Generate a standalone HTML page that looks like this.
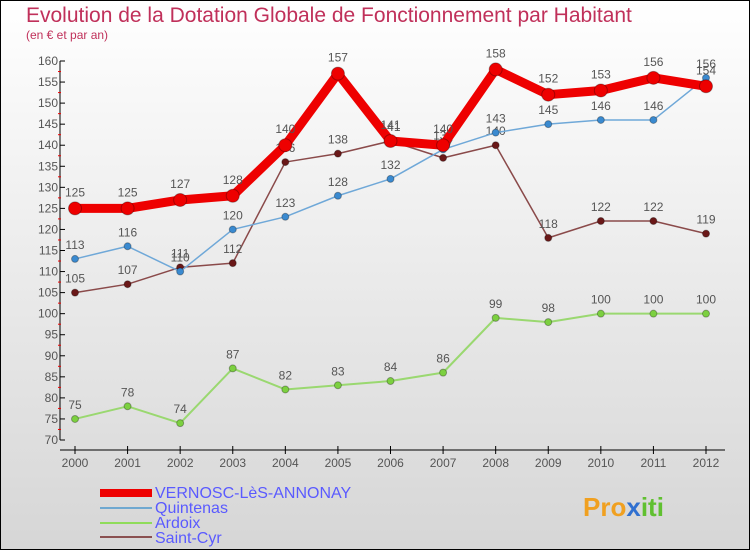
<!DOCTYPE html>
<html><head><meta charset="utf-8"><style>
body{margin:0}
svg{display:block;font-family:"Liberation Sans",sans-serif}
</style></head><body>
<svg width="750" height="550" id="c">
<defs><linearGradient id="bg" x1="0" y1="0" x2="0" y2="1"><stop offset="0" stop-color="#ffffff"/><stop offset="1" stop-color="#d6d6d6"/></linearGradient></defs>
<rect x="0.5" y="0.5" width="749" height="549" fill="url(#bg)" stroke="#000"/>
<text x="26" y="22" font-size="21" fill="#c0305a">Evolution de la Dotation Globale de Fonctionnement par Habitant</text>
<text x="26" y="39" font-size="12" fill="#c0305a">(en € et par an)</text>
<g id="axes"></g><g id="series"></g>
<g>
<rect x="100" y="489" width="52" height="8" fill="#e00"/>
<text x="155" y="498" font-size="16" fill="#5a5aff">VERNOSC-LèS-ANNONAY</text>
<line x1="100" y1="508" x2="152" y2="508" stroke="#6fa8d0" stroke-width="2"/>
<text x="155" y="513" font-size="16" fill="#5a5aff">Quintenas</text>
<line x1="100" y1="523" x2="152" y2="523" stroke="#8fdc5a" stroke-width="2"/>
<text x="155" y="528" font-size="16" fill="#5a5aff">Ardoix</text>
<line x1="100" y1="537" x2="152" y2="537" stroke="#8a5050" stroke-width="2"/>
<text x="155" y="543" font-size="16" fill="#5a5aff">Saint-Cyr</text>
</g>
<g><text x="583" y="516" font-size="26" font-weight="bold" fill="#f0a020">Pro<tspan fill="#3070d0">x</tspan><tspan fill="#60c030">iti</tspan></text></g>
</svg>
<script>
const years=[2000,2001,2002,2003,2004,2005,2006,2007,2008,2009,2010,2011,2012];
const vernosc=[125,125,127,128,140,157,141,140,158,152,153,156,154];
const quintenas=[113,116,110,120,123,128,132,139,143,145,146,146,156];
const ardoix=[75,78,74,87,82,83,84,86,99,98,100,100,100];
const saintCyr=[105,107,111,112,136,138,141,137,140,118,122,122,119];
const yTicks=[70,75,80,85,90,95,100,105,110,115,120,125,130,135,140,145,150,155,160];
const NS="http://www.w3.org/2000/svg";
const xs=i=>75+i*(706-75)/(years.length-1);
const ys=v=>440-(v-70)*(440-61)/90;
function mk(t,a,p){const e=document.createElementNS(NS,t);for(const k in a)e.setAttribute(k,a[k]);p.appendChild(e);return e;}
const ax=document.getElementById('axes');
let yl=mk('line',{x1:60,y1:61,x2:60,y2:440,stroke:'#000'},ax);


yTicks.forEach(v=>{mk('line',{x1:60,y1:ys(v),x2:65,y2:ys(v),stroke:'#000'},ax);
 let t=mk('text',{x:58,y:ys(v)+4,'font-size':12,'text-anchor':'end',fill:'#555'},ax);t.textContent=v;
 
 
 if(v<160)mk('line',{x1:58,y1:ys(v+2.5),x2:61,y2:ys(v+2.5),stroke:'#e00'},ax);});
let xl=mk('line',{x1:60,y1:450,x2:725,y2:450,stroke:'#000'},ax);


years.forEach((y,i)=>{mk('line',{x1:xs(i),y1:446,x2:xs(i),y2:454,stroke:'#000'},ax);
 let t=mk('text',{x:xs(i),y:467,'font-size':12,'text-anchor':'middle',fill:'#555'},ax);t.textContent=y;
 
 });
const sg=document.getElementById('series');
function series(data,color,w,r,dot,name){
 const g=mk('g',{},sg);
 
 
 mk('polyline',{points:data.map((v,i)=>xs(i)+','+ys(v)).join(' '),fill:'none',stroke:color,'stroke-width':w,'stroke-linejoin':'round'},g);
 data.forEach((v,i)=>{const c=mk('circle',{cx:xs(i),cy:ys(v),r:r,fill:dot,stroke:'rgba(0,0,0,0.3)'},g);
  
  
  const t=mk('text',{x:xs(i),y:ys(v)-10-(w>4?2:0),'font-size':12,'text-anchor':'middle',fill:'#555'},g);t.textContent=v;
  
  });
}
series(ardoix,'#9ad870',2,3.5,'#7cd040','ardoix');
series(saintCyr,'#8a4a4a',1.5,3.5,'#6a1818','saint-cyr');
series(quintenas,'#6fa8d8',1.5,3.5,'#3a8ad0','quintenas');
series(vernosc,'#ee0000',9,6.5,'#ee0000','vernosc');
</script>
</body></html>
